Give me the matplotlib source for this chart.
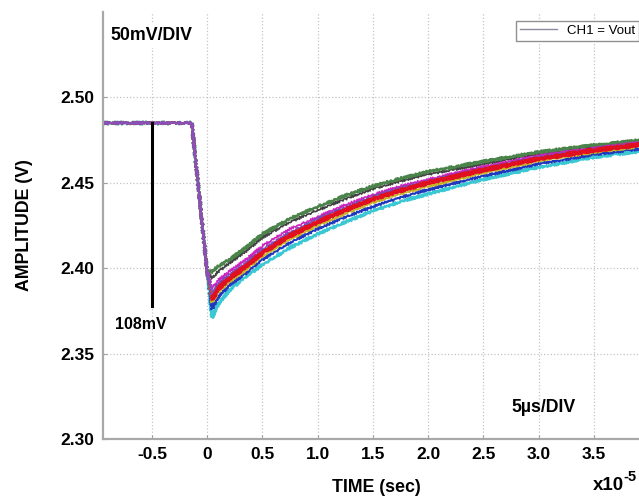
import matplotlib
matplotlib.use('Agg')
import matplotlib.pyplot as plt
from matplotlib.lines import Line2D

plt.rcParams['font.family'] = ['Liberation Sans', 'DejaVu Sans']

# time in units of 1e-5 s, amplitude in V
t = [-0.943, -0.14, 0.0, 0.045, 0.1, 0.2, 0.35, 0.5, 0.75, 1.0, 1.25, 1.5, 1.75, 2.0, 2.5, 3.0, 3.5, 4.0]

v_green = [2.485, 2.485, 2.398, 2.398, 2.401, 2.405, 2.412, 2.420, 2.429, 2.436, 2.4425, 2.448, 2.4525, 2.4565, 2.4625, 2.468, 2.472, 2.4755]
v_black = [2.485, 2.485, 2.398, 2.394, 2.398, 2.403, 2.410, 2.418, 2.427, 2.434, 2.4405, 2.4465, 2.451, 2.455, 2.461, 2.467, 2.4712, 2.475]
v_magenta = [2.485, 2.485, 2.398, 2.388, 2.393, 2.398, 2.405, 2.413, 2.423, 2.430, 2.437, 2.443, 2.448, 2.452, 2.4595, 2.4658, 2.4703, 2.4743]
v_purple = [2.485, 2.485, 2.398, 2.385, 2.391, 2.396, 2.403, 2.411, 2.421, 2.429, 2.4355, 2.442, 2.447, 2.451, 2.4585, 2.465, 2.4697, 2.4737]
v_red = [2.485, 2.485, 2.398, 2.382, 2.388, 2.394, 2.401, 2.409, 2.419, 2.427, 2.434, 2.4405, 2.4455, 2.450, 2.4575, 2.464, 2.469, 2.473]
v_yellow = [2.485, 2.485, 2.398, 2.380, 2.386, 2.392, 2.399, 2.407, 2.417, 2.425, 2.432, 2.4385, 2.4435, 2.448, 2.4558, 2.4628, 2.4678, 2.4718]
v_blue = [2.485, 2.485, 2.398, 2.376, 2.383, 2.390, 2.397, 2.405, 2.415, 2.423, 2.430, 2.436, 2.4415, 2.446, 2.454, 2.461, 2.4665, 2.4705]
v_cyan = [2.485, 2.485, 2.398, 2.371, 2.379, 2.387, 2.395, 2.402, 2.412, 2.420, 2.427, 2.4335, 2.439, 2.4435, 2.452, 2.459, 2.465, 2.469]

x_ticks = [-0.5, 0, 0.5, 1.0, 1.5, 2.0, 2.5, 3.0, 3.5]
x_labels = ['-0.5', '0', '0.5', '1.0', '1.5', '2.0', '2.5', '3.0', '3.5']
y_ticks = [2.30, 2.35, 2.40, 2.45, 2.50]
y_labels = ['2.30', '2.35', '2.40', '2.45', '2.50']

# step marker: from the flat level down to the dip
marker_t = -0.5
marker_v = [2.485, 2.378]

fig = plt.figure(figsize=(6.39, 4.97), dpi=100)
ax = fig.add_axes([0.1612, 0.1167, 0.8545, 0.8592])

traces = [
    (v_cyan, '#3cc8d2', 1.8),
    (v_blue, '#2038c0', 1.4),
    (v_black, '#404040', 1.2),
    (v_green, '#4a844a', 1.8),
    (v_yellow, '#c8b428', 1.3),
    (v_red, '#e01020', 1.2),
    (v_magenta, '#d020c0', 1.2),
    (v_purple, '#7a48b8', 1.2),
]
for vals, col, lw in traces:
    line, = ax.plot(t, vals, color=col, lw=lw)
    line.set_sketch_params(1.2, 2.0, 1.5)

# red trace is drawn heavy only after the dip; purple stays on top for the flat part and the edge
line, = ax.plot(t[3:], v_red[3:], color='#e01020', lw=2.6)
line.set_sketch_params(1.2, 2.0, 1.5)
line, = ax.plot(t[:4], v_purple[:4], color='#8a50b8', lw=1.4)
line.set_sketch_params(1.0, 2.0, 1.5)

ax.plot([marker_t, marker_t], marker_v, color='black', lw=2.2)

ax.set_xlim(-0.943, 4.0)
ax.set_ylim(2.30, 2.55)
ax.set_xticks(x_ticks)
ax.set_xticklabels(x_labels)
ax.set_yticks(y_ticks)
ax.set_yticklabels(y_labels)
ax.tick_params(direction='in', length=3, color='#a0a0a0', labelsize=12.5, pad=6)
for lab in ax.get_xticklabels() + ax.get_yticklabels():
    lab.set_fontweight('bold')

ax.grid(True, linestyle=':', color='#c4c4c4', lw=0.9)
ax.set_axisbelow(True)
for side in ['top', 'right']:
    ax.spines[side].set_visible(False)
for side in ['left', 'bottom']:
    ax.spines[side].set_color('#a8a8a8')
    ax.spines[side].set_linewidth(1.6)

ax.set_xlabel('TIME (sec)', fontsize=12.8, fontweight='bold', labelpad=12)
ax.set_ylabel('AMPLITUDE (V)', fontsize=12.8, fontweight='bold', labelpad=20)

ax.text(-0.877, 2.536, '50mV/DIV', fontsize=12.8, fontweight='bold', va='center', ha='left',
        bbox=dict(facecolor='white', edgecolor='none', pad=3))
ax.text(-0.83, 2.3673, '108mV', fontsize=11.5, fontweight='bold', va='center', ha='left')
ax.text(2.75, 2.3187, '5\u00b5s/DIV', fontsize=12.8, fontweight='bold', va='center', ha='left')
fig.text(593 / 639, 1 - 490 / 497, 'x10', fontsize=13.5, fontweight='bold', ha='left', va='baseline')
fig.text(623 / 639, 1 - 481 / 497, '-5', fontsize=10.5, fontweight='bold', ha='left', va='baseline')

legend_elements = [Line2D([], [], color='#8c8ca0', lw=1, label='CH1 = Vout')]
ax.legend(handles=legend_elements, loc='upper right', bbox_to_anchor=(646 / 639, 1 - 14 / 497),
          bbox_transform=fig.transFigure, fancybox=False, edgecolor='#909090', fontsize=9.5,
          handlelength=2.8, borderpad=0.3, framealpha=1)

fig.savefig('out.png', dpi=100)
